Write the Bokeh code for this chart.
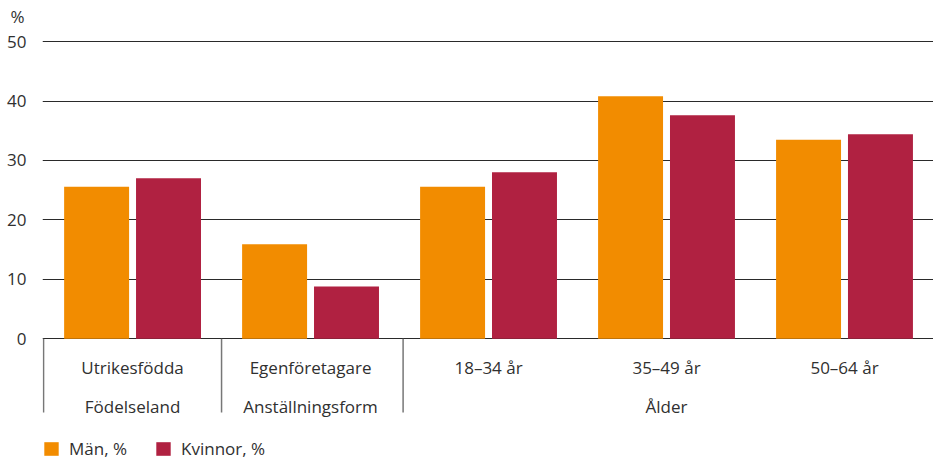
from bokeh.plotting import figure
from bokeh.models import (ColumnDataSource, FixedTicker, Range1d,
                          Legend, LegendItem)
from bokeh.transform import dodge
from bokeh.embed import file_html
from bokeh.resources import INLINE
from bokeh.core.properties import value

# Data
categories = ["Utrikesfödda", "Egenföretagare", "18–34 år", "35–49 år", "50–64 år"]
groups = ["Födelseland", "Anställningsform", "Ålder"]
group_members = [[0], [1], [2, 3, 4]]
man = [25.6, 15.9, 25.6, 40.8, 33.5]
kvinnor = [27.0, 8.8, 28.0, 37.6, 34.4]
y_ticks = [0, 10, 20, 30, 40, 50]

FONT = "Open Sans"
TEXT_COLOR = "#303030"
ORANGE = "#F28C00"
CRIMSON = "#B02141"

xs = list(range(len(categories)))
src = ColumnDataSource(dict(x=xs, man=man, kvinnor=kvinnor))

p = figure(width=933, height=464, output_backend="svg", toolbar_location=None,
           x_range=Range1d(-0.506, 4.5), y_range=Range1d(-21.15, 51.87),
           min_border_left=42, min_border_right=0, min_border_top=30,
           min_border_bottom=0)
p.outline_line_color = None
p.background_fill_color = "white"
p.border_fill_color = "white"

# Unit label drawn as a left-aligned title above the axis labels
p.title.text = "%"
p.title.align = "left"
p.title.offset = -32
p.title.standoff = 5
p.title.text_font = FONT
p.title.text_font_size = "17px"
p.title.text_font_style = "normal"
p.title.text_color = TEXT_COLOR

# Bars
r_man = p.vbar(x=dodge("x", -0.202, range=p.x_range), top="man", bottom=0,
               width=0.365, source=src, fill_color=ORANGE, line_color=None)
r_kv = p.vbar(x=dodge("x", 0.202, range=p.x_range), top="kvinnor", bottom=0,
              width=0.365, source=src, fill_color=CRIMSON, line_color=None)

# Axes and grid
p.xaxis.visible = False
p.xgrid.visible = False
yax = p.yaxis[0]
yax.ticker = FixedTicker(ticks=y_ticks)
yax.axis_line_color = None
yax.major_tick_line_color = None
yax.minor_tick_line_color = None
yax.major_label_standoff = 10
yax.major_label_text_font = FONT
yax.major_label_text_font_size = "17px"
yax.major_label_text_color = TEXT_COLOR
p.ygrid.ticker = FixedTicker(ticks=y_ticks)
p.ygrid.grid_line_color = "#2a2a2a"
p.ygrid.grid_line_width = 1

# Category labels
p.text(x=xs, y=[-4.85] * len(xs), text=categories, text_font=value(FONT),
       text_font_size="17px", text_color=TEXT_COLOR, text_align="center",
       text_baseline="alphabetic")

# Group labels and separators
gx = [sum(m) / len(m) for m in group_members]
p.text(x=gx, y=[-11.35] * len(gx), text=groups, text_font=value(FONT),
       text_font_size="17px", text_color=TEXT_COLOR, text_align="center",
       text_baseline="alphabetic")
sep_x = [m[0] - 0.5 + (0.02 if m[0] > 1 else 0) for m in group_members]
p.segment(x0=sep_x, y0=[0] * len(sep_x), x1=sep_x, y1=[-12.4] * len(sep_x),
          line_color="#777777", line_width=1.5)

# Legend
legend = Legend(items=[LegendItem(label="Män, %", renderers=[r_man]),
                       LegendItem(label="Kvinnor, %", renderers=[r_kv])],
                orientation="horizontal", location=(0, 4))
legend.padding = 0
legend.margin = 0
legend.spacing = 27
legend.border_line_color = None
legend.background_fill_alpha = 0
legend.glyph_width = 18
legend.glyph_height = 17
legend.label_standoff = 9
legend.label_text_font = FONT
legend.label_text_font_size = "17px"
legend.label_text_color = TEXT_COLOR
p.add_layout(legend)

open("out.html", "w").write(file_html(p, INLINE))
